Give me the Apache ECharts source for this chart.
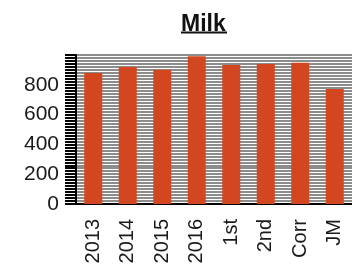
<!DOCTYPE html>
<html>
<head>
<meta charset="utf-8">
<script src="https://cdn.jsdelivr.net/npm/echarts@6/dist/echarts.min.js"></script>
<style>
  html, body { margin: 0; padding: 0; background: #fff; }
  #chart { width: 352px; height: 271px; }
</style>
</head>
<body>
<div id="chart"></div>
<script>
// categories and values
var categories = ['2013', '2014', '2015', '2016', '1st', '2nd', 'Corr', 'JM']
var milk = [879, 919, 901, 992, 933, 940, 948, 772]
var yTicks = [0, 200, 400, 600, 800]

var chart = echarts.init(document.getElementById('chart'))
chart.setOption({
  animation: false,
  title: {
    text: 'Milk',
    left: 176,
    top: 8,
    textStyle: {
      fontFamily: 'Liberation Sans',
      fontWeight: 'bold',
      fontSize: 23,
      color: '#111'
    }
  },
  // underline under the title
  graphic: [{
    type: 'line',
    shape: { x1: 181, y1: 32.5, x2: 227, y2: 32.5 },
    style: { stroke: '#111', lineWidth: 2 }
  }],
  grid: {
    left: 76,
    right: -4,
    top: 55,
    bottom: 67
  },
  xAxis: {
    type: 'category',
    data: categories,
    axisLine: { lineStyle: { color: '#000', width: 2 } },
    axisTick: { length: 8, lineStyle: { color: '#000', width: 2 } },
    axisLabel: {
      rotate: 90,
      margin: 15,
      interval: 0,
      fontFamily: 'Liberation Sans',
      fontSize: 20,
      color: '#1a1a1a'
    }
  },
  yAxis: {
    type: 'value',
    min: 0,
    max: 1000,
    interval: 200,
    axisLine: { show: true, onZero: false, lineStyle: { color: '#000', width: 2 } },
    axisTick: { show: true, length: 11, lineStyle: { color: '#000', width: 2 } },
    minorTick: { show: true, splitNumber: 10, length: 11, lineStyle: { color: '#000', width: 2 } },
    splitLine: { show: true, lineStyle: { color: '#8c8c8c', width: 2 } },
    minorSplitLine: { show: true, lineStyle: { color: '#8c8c8c', width: 2 } },
    axisLabel: {
      margin: 17,
      fontFamily: 'Liberation Sans',
      fontSize: 21,
      color: '#1a1a1a',
      formatter: function (v) {
        return yTicks.indexOf(v) >= 0 ? String(v) : ''
      }
    }
  },
  series: [{
    type: 'bar',
    data: milk,
    barWidth: 18,
    itemStyle: { color: '#d2471f' }
  }]
})
</script>
</body>
</html>
